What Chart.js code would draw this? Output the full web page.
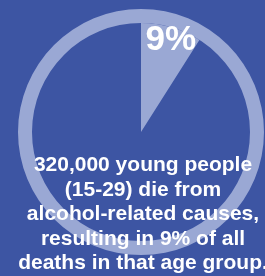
<!DOCTYPE html>
<html>
<head>
<meta charset="utf-8">
<script src="https://cdn.jsdelivr.net/npm/chart.js@4/dist/chart.umd.min.js"></script>
<style>
  html, body { margin: 0; padding: 0; background: #3d55a3; }
  #wrap { width: 265px; height: 276px; }
</style>
</head>
<body>
<div id="wrap"><canvas id="pieChart" width="265" height="276"></canvas></div>
<script>
// shares of deaths, ages 15-29
const categories = ['Alcohol-related', 'Other causes'];
const shares = [9, 91];
const ring = [100];
const captionLines = [
  '320,000 young people',
  '(15-29) die from',
  'alcohol-related causes,',
  'resulting in 9% of all',
  'deaths in that age group.'
];

const bgBlue = '#3d55a3';
const lightBlue = '#9aa8d4';

const labelPlugin = {
  id: 'labels',
  afterDraw(chart) {
    const ctx = chart.ctx;
    const arc = chart.getDatasetMeta(1).data[0];
    const mid = (arc.startAngle + arc.endAngle) / 2;
    const r = arc.outerRadius * 0.88;
    ctx.save();
    ctx.fillStyle = '#ffffff';
    ctx.textAlign = 'center';
    ctx.textBaseline = 'middle';
    ctx.font = 'bold 35px "Liberation Sans", Arial, sans-serif';
    ctx.fillText(shares[0] + '%', arc.x + Math.cos(mid) * r + 3, arc.y + Math.sin(mid) * r);

    ctx.textBaseline = 'alphabetic';
    ctx.font = 'bold 21px "Liberation Sans", Arial, sans-serif';
    captionLines.forEach((line, i) => {
      ctx.fillText(line, 143, 171 + i * 24.6);
    });
    ctx.restore();
  }
};

const ctx = document.getElementById('pieChart').getContext('2d');
new Chart(ctx, {
  type: 'doughnut',
  data: {
    labels: categories,
    datasets: [{
      data: ring,
      backgroundColor: [lightBlue],
      borderWidth: 0,
      weight: 14
    }, {
      data: shares,
      backgroundColor: [lightBlue, 'rgba(0,0,0,0)'],
      borderWidth: 0,
      weight: 109
    }]
  },
  options: {
    responsive: false,
    animation: false,
    events: [],
    cutout: 0,
    layout: { padding: { left: 18, right: 1, top: 9, bottom: 21 } },
    plugins: {
      legend: { display: false },
      tooltip: { enabled: false }
    }
  },
  plugins: [labelPlugin]
});
</script>
</body>
</html>
